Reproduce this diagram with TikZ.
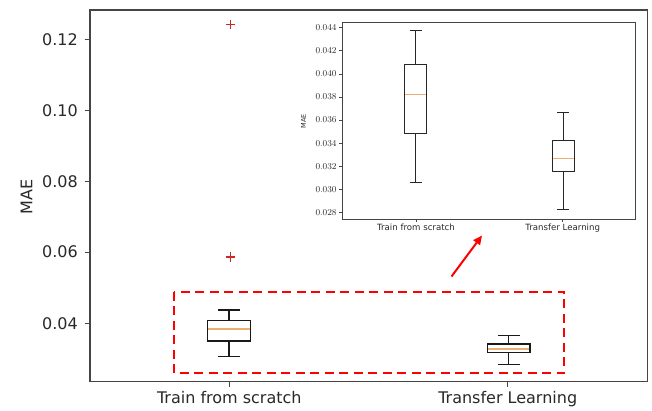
\documentclass[tikz,border=0pt]{standalone}
\usepackage{fontspec}
\setmainfont{DejaVu Sans}
\usetikzlibrary{arrows.meta}
\definecolor{txt}{rgb}{0.16,0.16,0.16}
\definecolor{spinec}{rgb}{0.27,0.27,0.27}
\definecolor{medc}{rgb}{0.93,0.68,0.45}
\definecolor{flierc}{rgb}{0.80,0.15,0.15}
\begin{document}
\begin{tikzpicture}[x=1pt,y=-1pt,
  spine/.style={draw=spinec,line width=1.3pt},
  ispine/.style={draw=spinec,line width=0.9pt},
  bigtick/.style={font=\fontsize{16}{16}\selectfont,text=txt,inner sep=0pt},
  smalltick/.style={font=\fontsize{8.6}{8.6}\selectfont,text=txt,inner sep=0pt},
  boxline/.style={draw=black!90,line width=1.4pt},
  iboxline/.style={draw=black!85,line width=0.8pt},
  medline/.style={draw=medc,line width=1.4pt},
  imedline/.style={draw=medc,line width=1.0pt},
  flier/.style={draw=flierc,line width=1.2pt},
  zoomrect/.style={draw=red,line width=2.2pt,dash pattern=on 9pt off 5.5pt},
  zoomarrow/.style={draw=red,line width=2pt,-{Triangle[length=9pt,width=8pt]}}
]
\useasboundingbox (0,0) rectangle (652,411);
\fill[white] (0,0) rectangle (652,411);

% ---- main axes ----
\draw[spine] (90,10) rectangle (647.5,381.7);
\foreach \yy/\lab [count=\i] in {39.5/0.12,110.3/0.10,181.2/0.08,252.1/0.06,323.3/0.04}{
  \draw[spine,line width=1pt] (84.5,\yy) -- (90,\yy);
  \node[bigtick,anchor=east] (yt\i) at (78,\yy) {\lab};
}
\node[bigtick,rotate=90] (ylab) at (26.5,197) {MAE};
\draw[spine,line width=1pt] (229.3,381.7) -- (229.3,387);
\draw[spine,line width=1pt] (507.7,381.7) -- (507.7,387);
\node[bigtick,anchor=north] (xt1) at (229.3,391.5) {Train from scratch};
\node[bigtick,anchor=north] (xt2) at (507.7,391.5) {Transfer Learning};

% box 1
\draw[boxline] (229,310) -- (229,320.3) (229,341) -- (229,356.4);
\draw[boxline] (218.3,310) -- (240,310) (218.3,356.4) -- (240,356.4);
\draw[boxline] (207.5,320.3) rectangle (250.3,341);
\draw[medline] (208.2,328.9) -- (249.6,328.9);
% box 2
\draw[boxline] (508.5,335.6) -- (508.5,344) (508.5,352.6) -- (508.5,364.7);
\draw[boxline] (497.5,335.6) -- (519.5,335.6) (497.5,364.7) -- (519.5,364.7);
\draw[boxline] (487.5,344) rectangle (529.8,352.6);
\draw[medline] (488.2,349) -- (529.1,349);
% fliers
\draw[flier] (225.6,24.5) -- (235,24.5) (230.3,19.8) -- (230.3,29.2);
\draw[flier] (225.6,257) -- (235,257) (230.3,252.3) -- (230.3,261.7);

% zoom rectangle and arrow
\draw[zoomrect] (174.3,291.7) rectangle (564.3,373.3);
\coordinate (arrA) at (451.5,276.5);
\coordinate (arrB) at (482,235.5);
\draw[zoomarrow] (arrA) -- (arrB);

% ---- inset ----
\fill[white] (342.3,22.7) rectangle (635,219);
\draw[ispine] (342.3,22.7) rectangle (635,219);
\foreach \k [count=\i] in {0,...,8}{
  \pgfmathsetmacro{\yy}{27.7+23.1*\k}
  \pgfmathsetmacro{\vv}{0.044-0.002*\k}
  \draw[ispine,line width=0.7pt] (339,\yy) -- (342.3,\yy);
  \node[smalltick,anchor=east] (it\i) at (336.8,\yy) {\pgfmathprintnumber[fixed,precision=3,zerofill]{\vv}};
}
\node[font=\fontsize{6.5}{6.5}\selectfont,text=txt,rotate=90,inner sep=0pt] (iylab) at (303.5,121.5) {MAE};
\draw[ispine,line width=0.7pt] (416,219) -- (416,222);
\draw[ispine,line width=0.7pt] (562.7,219) -- (562.7,222);
\node[smalltick,anchor=north] (ixt1) at (416,223.5) {Train from scratch};
\node[smalltick,anchor=north] (ixt2) at (562.7,223.5) {Transfer Learning};

% inset box 1
\draw[iboxline] (415.7,30.3) -- (415.7,64.7) (415.7,133.3) -- (415.7,182.3);
\draw[iboxline] (409.5,30.3) -- (422,30.3) (409.5,182.3) -- (422,182.3);
\draw[iboxline] (404.5,64.7) rectangle (426.8,133.3);
\draw[imedline] (405,95) -- (426.3,95);
% inset box 2
\draw[iboxline] (563.2,112.7) -- (563.2,140) (563.2,171.7) -- (563.2,209.3);
\draw[iboxline] (557,112.7) -- (569.4,112.7) (557,209.3) -- (569.4,209.3);
\draw[iboxline] (552.3,140) rectangle (574,171.7);
\draw[imedline] (552.8,159) -- (573.5,159);
\end{tikzpicture}
\end{document}
